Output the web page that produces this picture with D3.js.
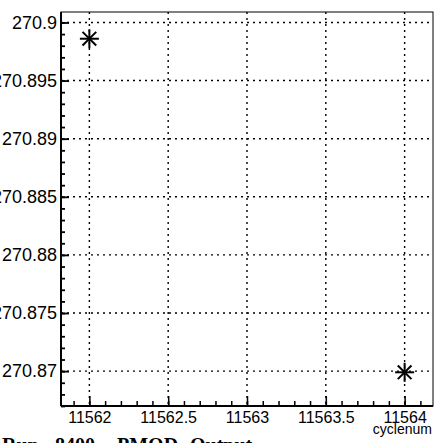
<!DOCTYPE html>
<html><head><meta charset="utf-8">
<script src="https://cdn.jsdelivr.net/npm/d3@7"></script>
<style>body{margin:0;background:#fff;overflow:hidden}</style>
</head><body>
<svg id="c" width="437" height="443"></svg>
<script>
const cyclenum = [11562, 11564];
const pmod = [270.8986, 270.8699];
const xTicks = [11562, 11562.5, 11563, 11563.5, 11564];
const yTicks = [270.87, 270.875, 270.88, 270.885, 270.89, 270.895, 270.9];
const yTickLabels = ["270.87", "270.875", "270.88", "270.885", "270.89", "270.895", "270.9"];
const titleWords = ["Run", "8400", "PMOD", "Output"];
const xTitle = "cyclenum";

const L = 61, R = 433, T = 12, B = 406;
const svg = d3.select("#c");
const x = d3.scaleLinear().domain([11561.82, 11564.18]).range([L, R]);
const y = d3.scaleLinear().domain([270.867, 270.9009]).range([B, T]);

// grid
const g = svg.append("g");
g.selectAll("line.gx").data(xTicks).join("line")
  .attr("x1", d => x(d)).attr("x2", d => x(d)).attr("y1", T).attr("y2", B)
  .attr("stroke", "#000").attr("stroke-width", 1.4).attr("stroke-dasharray", "2,4");
g.selectAll("line.gy").data(yTicks).join("line")
  .attr("y1", d => y(d)).attr("y2", d => y(d)).attr("x1", L).attr("x2", R)
  .attr("stroke", "#000").attr("stroke-width", 1.4).attr("stroke-dasharray", "2,4");

// frame
svg.append("rect").attr("x", L).attr("y", T).attr("width", R - L).attr("height", B - T)
  .attr("fill", "none").attr("stroke", "#000").attr("stroke-width", 1);

// x axis (ticks inside)
const xMinor = d3.range(11561.9, 11564.18, 0.1).map(v => Math.round(v * 10) / 10);
const xa = svg.append("g").attr("transform", `translate(0,${B})`);
xa.call(d3.axisBottom(x).tickValues(xMinor).tickSize(-5).tickFormat(""));
xa.append("g").call(d3.axisBottom(x).tickValues(xTicks).tickSize(-10).tickFormat(d3.format("")));
xa.selectAll(".domain").remove();
xa.selectAll("line").attr("stroke", "#000").attr("stroke-width", 1.5);
xa.selectAll("text").attr("font-family", "Liberation Sans, Arial, sans-serif")
  .attr("font-size", 16).attr("fill", "#000").attr("y", 6).attr("dy", "0.71em");
svg.append("line").attr("x1", L).attr("x2", R).attr("y1", B).attr("y2", B)
  .attr("stroke", "#000").attr("stroke-width", 2);

// y axis
const yMinor = d3.range(0, 35).map(i => Math.round((270.867 + i * 0.001) * 1000) / 1000).filter(v => v <= 270.9009);
const ya = svg.append("g").attr("transform", `translate(${L},0)`);
ya.call(d3.axisLeft(y).tickValues(yMinor).tickSize(-4).tickFormat(""));
ya.append("g").call(d3.axisLeft(y).tickValues(yTicks).tickSize(-8).tickFormat((d, i) => yTickLabels[i]));
ya.selectAll(".domain").remove();
ya.selectAll("line").attr("stroke", "#000").attr("stroke-width", 1.8);
ya.selectAll("text").attr("font-family", "Liberation Sans, Arial, sans-serif")
  .attr("font-size", 18).attr("fill", "#000").attr("x", -4).attr("text-anchor", "end");
svg.append("line").attr("x1", L).attr("x2", L).attr("y1", T).attr("y2", B)
  .attr("stroke", "#000").attr("stroke-width", 2);

// markers (asterisk)
const pts = cyclenum.map((c, i) => [x(c), y(pmod[i])]);
const s = 9.5;
const star = svg.append("g").selectAll("g").data(pts).join("g")
  .attr("transform", d => `translate(${d[0]},${d[1]})`);
[[-s, 0, s, 0], [0, -s, 0, s], [-s * 0.72, -s * 0.72, s * 0.72, s * 0.72], [-s * 0.72, s * 0.72, s * 0.72, -s * 0.72]]
  .forEach(l => star.append("line").attr("x1", l[0]).attr("y1", l[1]).attr("x2", l[2]).attr("y2", l[3])
    .attr("stroke", "#000").attr("stroke-width", 2));

// axis title
svg.append("text").attr("x", 432).attr("y", 434).attr("text-anchor", "end")
  .attr("font-family", "Liberation Sans, Arial, sans-serif").attr("font-size", 14).text(xTitle);

// title
const wordX = [2, 55, 117, 190];
const tt = svg.append("text").attr("y", 452)
  .attr("font-family", "Liberation Serif, Times New Roman, serif").attr("font-size", 20)
  .attr("font-weight", "bold");
tt.selectAll("tspan").data(titleWords).join("tspan").attr("x", (d, i) => wordX[i]).text(d => d);
</script>
</body></html>
